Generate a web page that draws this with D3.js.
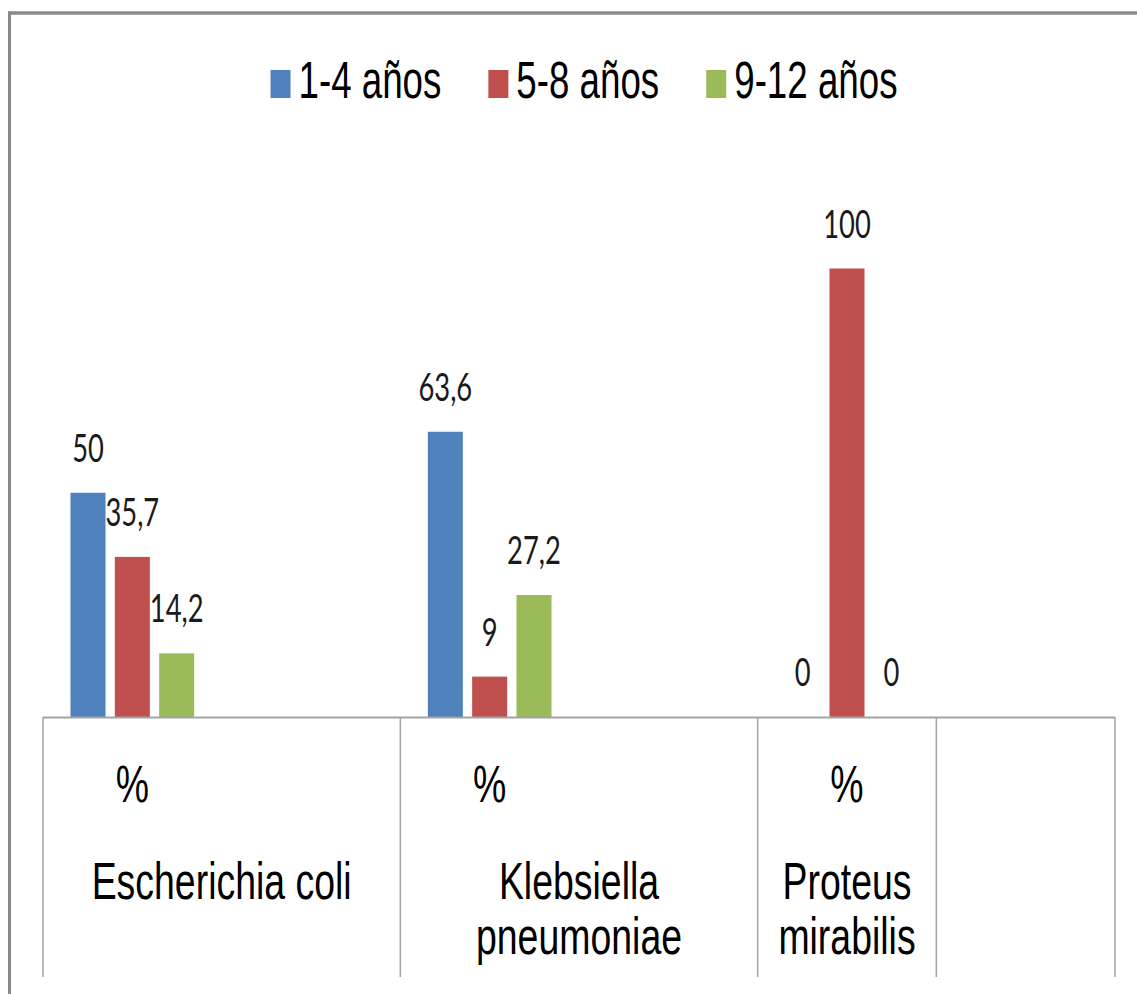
<!DOCTYPE html>
<html>
<head>
<meta charset="utf-8">
<script src="https://cdn.jsdelivr.net/npm/d3@7"></script>
<style>
  html, body { margin: 0; padding: 0; background: #ffffff; }
  svg { display: block; }
</style>
</head>
<body>
<script>
// Bacteria found in each age group (percentages)
const series = ["1-4 años", "5-8 años", "9-12 años"];
const values1to4 = [50, 63.6, 0];
const values5to8 = [35.7, 9, 100];
const values9to12 = [14.2, 27.2, 0];
const seriesColors = ["#4F81BD", "#C0504D", "#9BBB59"];

// Two-level category axis: outer group name, inner label
const outerGroups = ["Escherichia coli", "Klebsiella pneumoniae", "Proteus mirabilis", ""];
const axisSlots = [
  ["Escherichia coli", "%"],
  ["Escherichia coli", ""],
  ["Klebsiella pneumoniae", "%"],
  ["Klebsiella pneumoniae", ""],
  ["Proteus mirabilis", "%"],
  ["", ""]
];
const groupLines = {
  "Escherichia coli": ["Escherichia coli"],
  "Klebsiella pneumoniae": ["Klebsiella", "pneumoniae"],
  "Proteus mirabilis": ["Proteus", "mirabilis"],
  "": []
};

const W = 1137, H = 994;
const squeeze = 0.72;          // horizontal condensing applied to all text
const plot = { left: 43, right: 1115, top: 268.5, bottom: 717 };

const svg = d3.select("body").append("svg")
  .attr("width", W).attr("height", H);

// outer frame (top and left edges)
svg.append("line").attr("x1", 8).attr("x2", W).attr("y1", 13).attr("y2", 13)
  .attr("stroke", "#8a8a8a").attr("stroke-width", 3.5);
svg.append("line").attr("x1", 9.5).attr("x2", 9.5).attr("y1", 11.5).attr("y2", H)
  .attr("stroke", "#8a8a8a").attr("stroke-width", 3);

const slotIds = axisSlots.map((d, i) => i);
const x0 = d3.scaleBand().domain(slotIds).range([plot.left, plot.right]).padding(0);
const x1 = d3.scaleBand().domain(series).range([0, x0.bandwidth()])
  .paddingInner(0.21).paddingOuter(0.62);
const y = d3.scaleLinear().domain([0, 100]).range([plot.bottom, plot.top]);

const valuesBySeries = [values1to4, values5to8, values9to12];
const dataSlots = axisSlots.map((s, i) => ({ s, i })).filter(d => d.s[1] === "%");

const commaFmt = d3.formatLocale({ decimal: ",", thousands: ".", grouping: [3], currency: ["", ""] }).format("~f");

const barData = [];
dataSlots.forEach((slot, gi) => {
  series.forEach((name, si) => {
    barData.push({ slot: slot.i, series: name, si, value: valuesBySeries[si][gi] });
  });
});

// bars
svg.append("g").selectAll("rect").data(barData).join("rect")
  .attr("x", d => x0(d.slot) + x1(d.series))
  .attr("width", x1.bandwidth())
  .attr("y", d => y(d.value))
  .attr("height", d => y(0) - y(d.value))
  .attr("fill", d => seriesColors[d.si]);

// value labels
svg.append("g").selectAll("text").data(barData).join("text")
  .attr("transform", d => `translate(${x0(d.slot) + x1(d.series) + x1.bandwidth() / 2},${y(d.value) - 31}) scale(${squeeze},1)`)
  .attr("text-anchor", "middle")
  .attr("font-family", "Lato, 'Open Sans', sans-serif")
  .attr("font-size", 38)
  .attr("fill", "#1a1a1a")
  .text(d => commaFmt(d.value));

// category axis
const axisColor = "#a3a3a3";
svg.append("line")
  .attr("x1", plot.left).attr("x2", plot.right)
  .attr("y1", plot.bottom + 0.5).attr("y2", plot.bottom + 0.5)
  .attr("stroke", axisColor).attr("stroke-width", 2);

// group boundaries
const groupSpans = outerGroups.map(g => {
  const idx = axisSlots.map((s, i) => s[0] === g ? i : -1).filter(i => i >= 0);
  return { name: g, x0: x0(idx[0]), x1: x0(idx[idx.length - 1]) + x0.bandwidth() };
});
const bounds = [groupSpans[0].x0, ...groupSpans.map(g => g.x1)];
svg.append("g").selectAll("line").data(bounds).join("line")
  .attr("x1", d => d).attr("x2", d => d)
  .attr("y1", plot.bottom).attr("y2", 977)
  .attr("stroke", axisColor).attr("stroke-width", 1.5);

const labelFont = "'Liberation Sans', Arial, sans-serif";

// inner labels
svg.append("g").selectAll("text").data(axisSlots.map((s, i) => ({ s, i })).filter(d => d.s[1]))
  .join("text")
  .attr("transform", d => `translate(${x0(d.i) + x0.bandwidth() / 2},802) scale(${squeeze},1)`)
  .attr("text-anchor", "middle")
  .attr("font-family", labelFont).attr("font-size", 52).attr("fill", "#000")
  .text(d => d.s[1]);

// outer labels
const outer = svg.append("g").selectAll("text").data(groupSpans.filter(g => g.name)).join("text")
  .attr("transform", d => `translate(${(d.x0 + d.x1) / 2},899) scale(${squeeze},1)`)
  .attr("text-anchor", "middle")
  .attr("font-family", labelFont).attr("font-size", 52).attr("fill", "#000");
outer.selectAll("tspan").data(d => groupLines[d.name]).join("tspan")
  .attr("x", 0).attr("y", (d, i) => i * 55)
  .text(d => d);

// legend
const legend = svg.append("g");
const items = legend.selectAll("g").data(series).join("g");
items.append("rect")
  .attr("x", 0).attr("y", 70).attr("width", 20).attr("height", 28)
  .attr("fill", (d, i) => seriesColors[i]);
items.append("text")
  .attr("transform", `translate(28,98) scale(${squeeze},1)`)
  .attr("font-family", labelFont).attr("font-size", 51).attr("fill", "#000")
  .text(d => d);
const itemGap = 47;
items.each(function () {
  const t = d3.select(this).select("text").node().getComputedTextLength() * squeeze;
  d3.select(this).attr("data-w", 28 + t);
});
const widths = items.nodes().map(n => +n.getAttribute("data-w"));
const total = d3.sum(widths) + itemGap * (widths.length - 1);
let startX = 584 - total / 2;
items.attr("transform", (d, i) => {
  const tx = startX;
  startX += widths[i] + itemGap;
  return `translate(${tx},0)`;
});
</script>
</body>
</html>
